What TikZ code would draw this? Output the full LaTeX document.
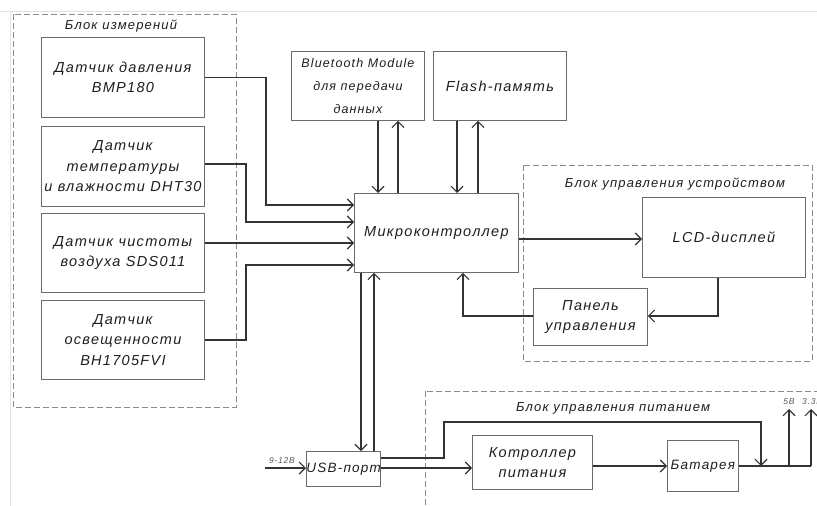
\documentclass[tikz,border=0pt]{standalone}
\usepackage{fontspec}
\setmainfont{Liberation Sans}
\newfontfamily\gostfont[LetterSpace=9]{Liberation Sans}
\usetikzlibrary{arrows.meta}
\definecolor{boxc}{HTML}{6A6A6A}
\definecolor{linec}{HTML}{333333}
\definecolor{dashc}{HTML}{8A8A8A}
\definecolor{txtc}{HTML}{1E1E1E}
\definecolor{framec}{HTML}{E2E2E2}
\definecolor{smallc}{HTML}{5A5A5A}
\tikzset{
  blk/.style={draw=boxc, line width=0.9pt, align=center, inner sep=0pt, anchor=north west,
    text=txtc, font=\gostfont\itshape\fontsize{14.5}{20.5}\selectfont},
  grp/.style={draw=dashc, line width=0.9pt, dash pattern=on 6pt off 3pt},
  grplbl/.style={text=txtc, font=\gostfont\itshape\fontsize{13}{16}\selectfont},
  con/.style={draw=linec, line width=1.3pt},
  arr/.style={con, -{Straight Barb[length=6pt,width=12pt,line width=1.1pt]}},
  tiny/.style={text=smallc, font=\gostfont\itshape\fontsize{8.5}{9}\selectfont, inner sep=0pt},
}
\begin{document}
\begin{tikzpicture}[x=1pt,y=-1pt]
\useasboundingbox (0,0) rectangle (817,506);
% faint frame
\draw[framec, line width=0.8pt] (0,11) -- (817,11);
\draw[framec, line width=0.8pt] (10,11) -- (10,506);
% groups
\draw[grp] (13,14) rectangle (236,407);
\node[grplbl] (g1) at (121,26) {Блок измерений};
\draw[grp] (523,165) rectangle (812,361);
\node[grplbl] (g2) at (675,184) {Блок управления устройством};
\draw[grp] (425,391) rectangle (840,520);
\node[grplbl] (g3) at (613,408) {Блок управления питанием};
% sensors
\node[blk, minimum width=163pt, minimum height=80pt] (s1) at (41,37) {Датчик давления\\BMP180};
\node[blk, minimum width=163pt, minimum height=80pt] (s2) at (41,126) {Датчик\\температуры\\и влажности DHT30};
\node[blk, minimum width=163pt, minimum height=79pt] (s3) at (41,213) {Датчик чистоты\\воздуха SDS011};
\node[blk, minimum width=163pt, minimum height=79pt] (s4) at (41,300) {Датчик\\освещенности\\BH1705FVI};
% core
\node[blk, minimum width=164pt, minimum height=79pt] (mc) at (354,193) {Микроконтроллер};
\node[blk, minimum width=133pt, minimum height=69pt, font=\gostfont\itshape\fontsize{12.5}{23}\selectfont] (bt) at (291,51) {Bluetooth Module\\для передачи\\данных};
\node[blk, minimum width=133pt, minimum height=69pt] (fl) at (433,51) {Flash-память};
% device control
\node[blk, minimum width=163pt, minimum height=80pt] (lcd) at (642,197) {LCD-дисплей};
\node[blk, minimum width=114pt, minimum height=57pt] (pan) at (533,288) {Панель\\управления};
% power
\node[blk, minimum width=72pt, minimum height=35pt, font=\gostfont\itshape\fontsize{13.5}{20}\selectfont] (usb) at (306,451) {USB-порт};
\node[blk, minimum width=120pt, minimum height=54pt] (ctl) at (472,435) {Котроллер\\питания};
\node[blk, minimum width=71pt, minimum height=51pt, font=\gostfont\itshape\fontsize{13.5}{20}\selectfont] (bat) at (667,440) {Батарея};
% sensor connectors
\draw[arr] (s1.east) -| (266,205) -- (mc.west |- 266,205);
\draw[arr] (s2.east |- 0,164) -| (246,222) -- (mc.west |- 0,222);
\draw[arr] (s3.east |- 0,243) -- (mc.west |- 0,243);
\draw[arr] (s4.east) -| (246,265) -- (mc.west |- 0,265);
% bluetooth / flash
\draw[arr] (bt.south -| 378,0) -- (mc.north -| 378,0);
\draw[arr] (mc.north -| 398,0) -- (bt.south -| 398,0);
\draw[arr] (fl.south -| 457,0) -- (mc.north -| 457,0);
\draw[arr] (mc.north -| 478,0) -- (fl.south -| 478,0);
% device control
\draw[arr] (mc.east |- 0,239) -- (lcd.west |- 0,239);
\draw[arr] (lcd.south -| 718,0) |- (pan.east |- 0,316);
\draw[arr] (pan.west |- 0,316) -| (mc.south -| 463,0);
% usb
\draw[arr] (mc.south -| 361,0) -- (usb.north -| 361,0);
\draw[arr] (usb.north -| 374,0) -- (mc.south -| 374,0);
\coordinate (vin) at (265,468);
\draw[arr] (vin) -- (usb.west |- vin);
\node[tiny, anchor=south] (vlbl) at (282,464) {9-12В};
\draw[arr] (usb.east |- 0,468) -- (ctl.west |- 0,468);
\coordinate (junc) at (761,466);
\draw[arr] (usb.east |- 0,458) -| (444,422) -| (junc);
\draw[arr] (ctl.east |- 0,466) -- (bat.west |- 0,466);
\coordinate (o5) at (789,466);
\coordinate (o33) at (811,466);
\draw[con] (bat.east |- 0,466) -- (o33);
\coordinate (t5) at (789,409);
\coordinate (t33) at (811,409);
\draw[arr] (o5) -- (t5);
\draw[arr] (o33) -- (t33);
\node[tiny, anchor=south] (l5) at (789,405) {5В};
\node[tiny, anchor=south west] (l33) at (802,405) {3.3В};
\end{tikzpicture}
\end{document}
